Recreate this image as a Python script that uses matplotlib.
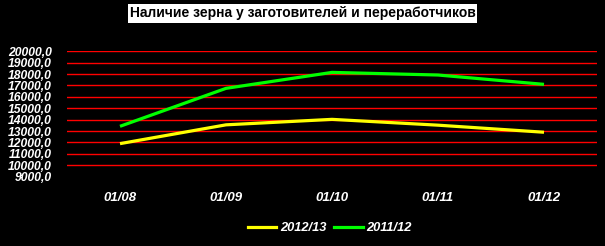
import matplotlib
matplotlib.use("Agg")
import matplotlib.pyplot as plt
from matplotlib.lines import Line2D

months = ["01/08", "01/09", "01/10", "01/11", "01/12"]
crop_2012 = [11900, 13550, 14030, 13520, 12900]
crop_2011 = [13420, 16750, 18150, 17920, 17100]
series_names = ["2012/13", "2011/12"]
y_ticks = list(range(9000, 20001, 1000))

plt.rcParams['font.family'] = ['Liberation Sans', 'DejaVu Sans']

fig = plt.figure(figsize=(6.05, 2.46), dpi=100, facecolor='black')
ax = fig.add_axes([67/605, 1 - 176.7/246, 530/605, 125.4/246])
ax.set_facecolor('black')

x = range(len(months))
ax.plot(x, crop_2012, color='#ffff00', lw=2.3, solid_capstyle='butt', zorder=3)
ax.plot(x, crop_2011, color='#00ff00', lw=2.3, solid_capstyle='butt', zorder=3)

ax.set_xlim(-0.5, len(months) - 0.5)
ax.set_ylim(9000, 20000)
ax.set_xticks(list(x))
ax.set_xticklabels(months)
ax.set_yticks(y_ticks)
ax.set_yticklabels([f"{v:.1f}".replace('.', ',') for v in y_ticks])

for v in y_ticks[1:]:
    ax.axhline(v, color='#ff0000', lw=1.0, zorder=1)

for s in ax.spines.values():
    s.set_visible(False)
ax.tick_params(axis='both', length=0, colors='white')
ax.tick_params(axis='y', pad=11)
ax.tick_params(axis='x', pad=11)
for lab in ax.get_yticklabels():
    lab.set_fontweight('bold')
    lab.set_fontstyle('italic')
    lab.set_fontsize(8.7)
for lab in ax.get_xticklabels():
    lab.set_fontweight('bold')
    lab.set_fontstyle('italic')
    lab.set_fontsize(9.5)

fig.text(0.5, 1 - 13.5/246, "Наличие зерна у заготовителей и переработчиков",
         ha='center', va='center', fontsize=10, fontweight='bold', color='black',
         bbox=dict(facecolor='white', edgecolor='none', pad=1.5))

handles = [Line2D([], [], color='#ffff00', lw=2.3),
           Line2D([], [], color='#00ff00', lw=2.3)]
leg = fig.legend(handles, series_names, loc='center', bbox_to_anchor=(330/605, 1 - 228/246),
                 ncol=2, frameon=False, handlelength=2.2, handletextpad=0.3,
                 columnspacing=0.6,
                 prop=dict(family='Liberation Sans', weight='bold', style='italic', size=9.3))
for t in leg.get_texts():
    t.set_color('white')

fig.savefig("out.png", dpi=100, facecolor='black')
